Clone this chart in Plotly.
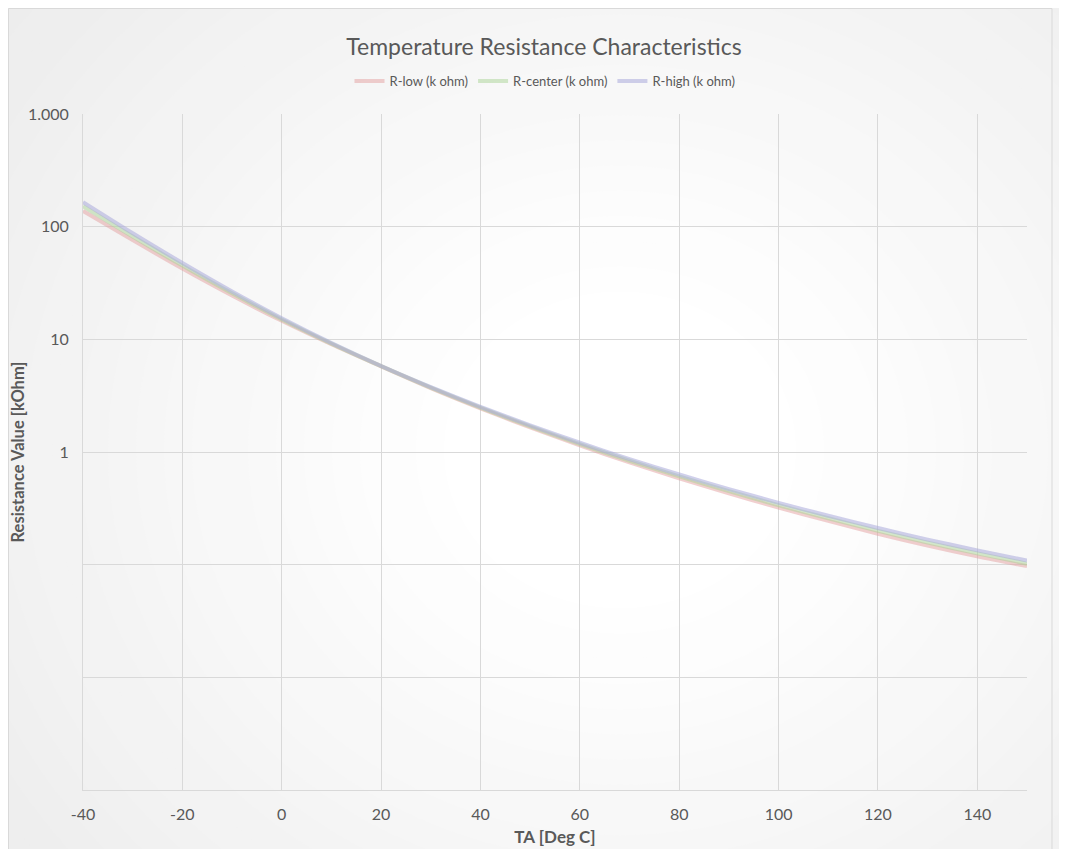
import plotly.graph_objects as go

# ---- data ----
temps = [-40, -30, -20, -10, 0, 10, 20, 30, 40, 50, 60, 70, 80, 90, 100, 110, 120, 130, 140, 150]
r_low = [138, 76.0, 42.5, 24.5, 14.6, 9.04, 5.76, 3.69, 2.44, 1.654, 1.143, 0.808, 0.584, 0.430, 0.321, 0.2445, 0.188, 0.1478, 0.1184, 0.097]
r_center = [152, 81.7, 45.1, 25.6, 15.0, 9.16, 5.78, 3.73, 2.48, 1.69, 1.175, 0.836, 0.607, 0.449, 0.337, 0.258, 0.1995, 0.157, 0.126, 0.102]
r_high = [165, 87.4, 47.6, 26.6, 15.4, 9.27, 5.80, 3.77, 2.52, 1.727, 1.208, 0.864, 0.631, 0.469, 0.354, 0.272, 0.2115, 0.1667, 0.134, 0.1087]
series_names = ["R-low (k ohm)", "R-center (k ohm)", "R-high (k ohm)"]
y_tickvals = [1000, 100, 10, 1, 0.1, 0.01, 0.001]
y_ticktext = ["1.000", "100", "10", "1", "", "", ""]
x_tickvals = [-40, -20, 0, 20, 40, 60, 80, 100, 120, 140]
x_ticktext = ["-40", "-20", "0", "20", "40", "60", "80", "100", "120", "140"]

colors = ["rgba(228,160,160,0.5)", "rgba(170,212,150,0.5)", "rgba(170,170,218,0.55)"]
FONT = "Lato"
GRAY = "#595959"

OFF = 8  # page offset of the figure div
W, H = 1067, 849
L, R, T, B = 75, 48, 106, 67
PW, PH = W - L - R, H - T - B

def px(x):
    """page pixel x -> paper coordinate"""
    return (x - OFF - L) / PW

def py(y):
    """page pixel y -> paper coordinate"""
    return (H - B - (y - OFF)) / PH

fig = go.Figure()
for name, vals, c in zip(series_names, [r_low, r_center, r_high], colors):
    fig.add_trace(go.Scatter(x=temps, y=vals, name=name, mode="lines",
                             line=dict(color=c, width=4, shape="spline", smoothing=0.8)))

# soft radial background gradient (decoration)
shapes = []
cx, cy = 620, 450
n = 24
for i in range(n):
    rad = 820 - i * 28
    g = int(round(236 + (255 - 236) * i / (n - 1)))
    col = "rgb({0},{0},{0})".format(g)
    shapes.append(dict(type="circle", xref="paper", yref="paper", layer="below",
                       x0=px(cx - rad), x1=px(cx + rad), y0=py(cy + rad * 0.9), y1=py(cy - rad * 0.9),
                       line=dict(width=0), fillcolor=col))
# outer chart border
shapes.append(dict(type="rect", xref="paper", yref="paper", layer="below",
                   x0=px(8.5), x1=px(1052), y0=py(870), y1=py(8.5),
                   line=dict(color="#d9d9d9", width=1), fillcolor="rgba(0,0,0,0)"))

fig.update_layout(
    width=W, height=H,
    margin=dict(l=L, r=R, t=T, b=B, autoexpand=False),
    paper_bgcolor="#ececec",
    plot_bgcolor="rgba(0,0,0,0)",
    font=dict(family=FONT, color=GRAY),
    title=dict(text="Temperature Resistance Characteristics", x=(544 - OFF) / W, xanchor="center",
               y=1 - (47 - OFF) / H, yanchor="middle", automargin=False,
               font=dict(size=23, color=GRAY, family=FONT)),
    legend=dict(orientation="h", x=px(545), xanchor="center", y=py(81), yanchor="middle",
                font=dict(size=13, color=GRAY, family=FONT), bgcolor="rgba(0,0,0,0)",
                itemwidth=30, tracegroupgap=0),
    shapes=shapes,
    xaxis=dict(range=[-40, 150], tickvals=x_tickvals, ticktext=x_ticktext, showgrid=True,
               gridcolor="#d9d9d9", gridwidth=1, zeroline=False, showline=True,
               linecolor="#d9d9d9", linewidth=1, automargin=False,
               ticks="", tickfont=dict(size=16, color=GRAY, family=FONT), ticklabelstandoff=10,
               title=dict(text="<b>TA [Deg C]</b>", font=dict(size=17, color=GRAY, family=FONT), standoff=8)),
    yaxis=dict(type="log", range=[-3, 3], tickvals=y_tickvals, ticktext=y_ticktext,
               showgrid=True, gridcolor="#d9d9d9", gridwidth=1, zeroline=False,
               showline=True, linecolor="#d9d9d9", linewidth=1, ticks="", automargin=False,
               tickfont=dict(size=16, color=GRAY, family=FONT), ticklabelstandoff=10,
               title=dict(text="<b>Resistance Value [kOhm]</b>", font=dict(size=16.5, color=GRAY, family=FONT), standoff=8)),
)

fig.write_html("out.html")
